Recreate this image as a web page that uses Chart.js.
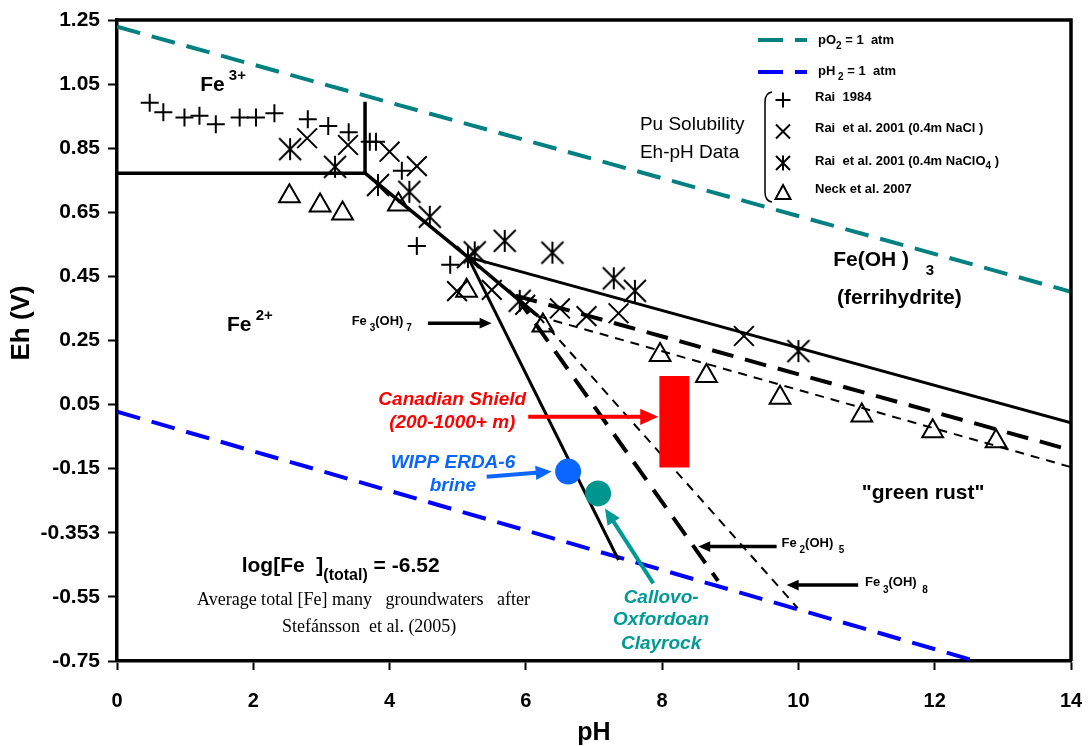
<!DOCTYPE html>
<html>
<head>
<meta charset="utf-8">
<script src="https://cdn.jsdelivr.net/npm/chart.js@4.4.1/dist/chart.umd.min.js"></script>
<style>
  html, body { margin: 0; padding: 0; background: #fff; }
  #wrap { width: 1088px; height: 746px; position: relative; }
</style>
</head>
<body>
<div id="wrap"><canvas id="ehph"></canvas></div>
<script>
// ---- Pu solubility Eh-pH data (pH, Eh in V) ----
const rai1984PH = [0.48, 0.68, 0.99, 1.21, 1.45, 1.80, 2.04, 2.31, 2.80, 3.10, 3.40, 3.71, 3.80, 4.18, 4.40, 4.89];
const rai1984Eh = [0.992, 0.962, 0.946, 0.951, 0.925, 0.946, 0.946, 0.959, 0.940, 0.919, 0.900, 0.870, 0.870, 0.780, 0.545, 0.486];

const raiNaClPH = [2.79, 3.39, 4.00, 4.40, 4.99, 5.50, 5.99, 6.50, 6.89, 7.36, 9.20];
const raiNaClEh = [0.881, 0.860, 0.839, 0.794, 0.404, 0.408, 0.361, 0.350, 0.326, 0.335, 0.264];

const raiNaClO4PH = [2.54, 3.20, 3.83, 4.29, 4.59, 5.15, 5.25, 5.69, 5.91, 6.39, 7.29, 7.60, 10.00];
const raiNaClO4Eh = [0.847, 0.792, 0.735, 0.714, 0.636, 0.510, 0.525, 0.561, 0.374, 0.524, 0.444, 0.405, 0.217];

const neckPH = [2.53, 2.98, 3.31, 4.13, 5.13, 6.25, 7.97, 8.65, 9.73, 10.93, 11.97, 12.90];
const neckEh = [0.700, 0.671, 0.646, 0.674, 0.405, 0.297, 0.205, 0.139, 0.071, 0.016, -0.033, -0.064];

// water stability limits
const o2PH = [0, 14];      const o2Eh = [1.229, 0.402];
const h2PH = [0, 12.6];    const h2Eh = [0.028, -0.75];

// Fe boundaries
const fe3Fe2PH = [0, 3.64, 3.64];         const fe3Fe2Eh = [0.772, 0.772, 0.995];
const feOH3Fe2PH = [3.64, 5.15, 6.18];    const feOH3Fe2Eh = [0.772, 0.510, 0.326];
const gr7UpperPH = [5.15, 14];            const gr7UpperEh = [0.510, -0.007];
const gr7LowerPH = [5.15, 7.36];          const gr7LowerEh = [0.510, -0.435];
const gr5UpperPH = [5.85, 14];            const gr5UpperEh = [0.390, -0.092];
const gr5LowerPH = [5.85, 8.82];          const gr5LowerEh = [0.390, -0.500];
const gr8UpperPH = [6.18, 14];            const gr8UpperEh = [0.326, -0.145];
const gr8LowerPH = [6.18, 9.99];          const gr8LowerEh = [0.326, -0.585];

// groundwater sites
const shieldPH = [8.18, 8.18];  const shieldEh = [0.139, -0.146];
const wippPH = [6.62];          const wippEh = [-0.159];
const calloPH = [7.06];         const calloEh = [-0.227];

// axis ticks
const phTicks = [0, 2, 4, 6, 8, 10, 12, 14];
const ehTicks = [-0.75, -0.55, -0.35, -0.15, 0.05, 0.25, 0.45, 0.65, 0.85, 1.05, 1.25];
const ehTickLabels = ['-0.75', '-0.55', '-0.353', '-0.15', '0.05', '0.25', '0.45', '0.65', '0.85', '1.05', '1.25'];

const SANS = "'Liberation Sans', Arial, Helvetica, sans-serif";
const SERIF = "'Liberation Serif', 'Times New Roman', serif";

const pts = (xs, ys) => xs.map((v, i) => ({ x: v, y: ys[i] }));

function makeAsterisk(size, lw) {
  const c = document.createElement('canvas');
  c.width = size + 4; c.height = size + 4;
  const g = c.getContext('2d');
  const m = c.width / 2, h = size / 2;
  g.strokeStyle = '#000'; g.lineWidth = lw;
  g.beginPath();
  g.moveTo(m - h, m - h); g.lineTo(m + h, m + h);
  g.moveTo(m + h, m - h); g.lineTo(m - h, m + h);
  g.moveTo(m, m - h); g.lineTo(m, m + h);
  g.stroke();
  return c;
}

function lineSet(xs, ys, color, width, dash) {
  return {
    data: pts(xs, ys), showLine: true, pointRadius: 0,
    borderColor: color, borderWidth: width, borderDash: dash || [],
    borderCapStyle: 'butt', fill: false
  };
}

function markerSet(xs, ys, style, r) {
  return {
    data: pts(xs, ys), showLine: false, pointStyle: style, pointRadius: r,
    pointBorderColor: '#000', pointBackgroundColor: 'rgba(0,0,0,0)', pointBorderWidth: 2
  };
}

// text placed in data coordinates (pH, Eh)
const textLabels = [
  { ph: 1.22, eh: 1.047, segs: [['Fe', 21, 0], [' 3+', 15, -9]] },
  { ph: 1.614, eh: 0.298, segs: [['Fe', 21, 0], [' 2+', 15, -9]] },
  { ph: 10.51, eh: 0.501, segs: [['Fe(OH )', 21, 0], ['    3', 15, 11]] },
  { ph: 10.565, eh: 0.382, segs: [['(ferrihydrite)', 21, 0]] },
  { ph: 10.93, eh: -0.225, segs: [['"green rust"', 21, 0]] },
  { ph: 1.83, eh: -0.454, segs: [['log[Fe  ]', 21, 0], ['(total)', 16, 9], [' = -6.52', 21, 0]] },
  { ph: 1.174, eh: -0.56, segs: [['Average total [Fe] many   groundwaters   after', 18, 0]], family: SERIF, weight: 'normal' },
  { ph: 2.42, eh: -0.644, segs: [['Stefánsson  et al. (2005)', 18, 0]], family: SERIF, weight: 'normal' },
  { ph: 4.92, eh: 0.064, segs: [['Canadian Shield', 19, 0]], italic: true, color: '#ff0000', align: 'center' },
  { ph: 4.92, eh: -0.008, segs: [['(200-1000+ m)', 19, 0]], italic: true, color: '#ff0000', align: 'center' },
  { ph: 4.93, eh: -0.133, segs: [['WIPP ERDA-6', 19, 0]], italic: true, color: '#0a66ff', align: 'center' },
  { ph: 4.93, eh: -0.202, segs: [['brine', 19, 0]], italic: true, color: '#0a66ff', align: 'center' },
  { ph: 7.985, eh: -0.554, segs: [['Callovo-', 19, 0]], italic: true, color: '#009a94', align: 'center' },
  { ph: 7.985, eh: -0.622, segs: [['Oxfordoan', 19, 0]], italic: true, color: '#009a94', align: 'center' },
  { ph: 7.985, eh: -0.695, segs: [['Clayrock', 19, 0]], italic: true, color: '#009a94', align: 'center' },
  { ph: 3.444, eh: 0.309, segs: [['Fe', 13, 0], [' 3', 10, 7], ['(OH)', 13, 0], [' 7', 10, 7]] },
  { ph: 9.753, eh: -0.383, segs: [['Fe', 13, 0], [' 2', 10, 7], ['(OH)', 13, 0], ['  5', 10, 7]] },
  { ph: 10.976, eh: -0.506, segs: [['Fe', 13, 0], [' 3', 10, 7], ['(OH)', 13, 0], ['  8', 10, 7]] },
  { ph: 7.674, eh: 0.922, segs: [['Pu Solubility', 19, 0]], weight: 'normal' },
  { ph: 7.674, eh: 0.835, segs: [['Eh-pH Data', 19, 0]], weight: 'normal' }
];

// arrows: from (ph1, eh1) to head at (ph2, eh2)
const arrows = [
  { ph1: 4.563, eh1: 0.304, ph2: 5.498, eh2: 0.304, color: '#000', w: 3.5, head: 12 },
  { ph1: 9.68, eh1: -0.393, ph2: 8.53, eh2: -0.393, color: '#000', w: 3.5, head: 12 },
  { ph1: 10.877, eh1: -0.513, ph2: 9.827, eh2: -0.513, color: '#000', w: 3.5, head: 12 },
  { ph1: 6.035, eh1: 0.012, ph2: 7.943, eh2: 0.012, color: '#ff0000', w: 4, head: 18 },
  { ph1: 5.425, eh1: -0.175, ph2: 6.379, eh2: -0.159, color: '#0a66ff', w: 4, head: 16 },
  { ph1: 7.87, eh1: -0.508, ph2: 7.161, eh2: -0.274, color: '#009a94', w: 4, head: 16 }
];

function richText(ctx, x, y, segs, o) {
  const fam = o.family || SANS;
  const st = (o.italic ? 'italic ' : '') + (o.weight || 'bold') + ' ';
  let w = 0;
  segs.forEach(s => { ctx.font = st + s[1] + 'px ' + fam; w += ctx.measureText(s[0]).width; });
  let cx = o.align === 'center' ? x - w / 2 : (o.align === 'right' ? x - w : x);
  ctx.fillStyle = o.color || '#000';
  ctx.textBaseline = 'middle';
  ctx.textAlign = 'left';
  segs.forEach(s => {
    ctx.font = st + s[1] + 'px ' + fam;
    ctx.fillText(s[0], cx, y + (s[2] || 0));
    cx += ctx.measureText(s[0]).width;
  });
}

function drawArrow(ctx, x1, y1, x2, y2, color, w, head) {
  const a = Math.atan2(y2 - y1, x2 - x1);
  const c = Math.cos(a), s = Math.sin(a), hw = head * 0.45;
  ctx.strokeStyle = color; ctx.fillStyle = color; ctx.lineWidth = w;
  ctx.setLineDash([]);
  ctx.beginPath();
  ctx.moveTo(x1, y1);
  ctx.lineTo(x2 - c * head * 0.8, y2 - s * head * 0.8);
  ctx.stroke();
  ctx.beginPath();
  ctx.moveTo(x2, y2);
  ctx.lineTo(x2 - head * c + hw * s, y2 - head * s - hw * c);
  ctx.lineTo(x2 - head * c - hw * s, y2 - head * s + hw * c);
  ctx.closePath();
  ctx.fill();
}

function legendMarker(ctx, kind, x, y) {
  ctx.strokeStyle = '#000'; ctx.lineWidth = 2; ctx.setLineDash([]);
  ctx.beginPath();
  if (kind === 'plus') {
    ctx.moveTo(x - 7.5, y); ctx.lineTo(x + 7.5, y);
    ctx.moveTo(x, y - 7.5); ctx.lineTo(x, y + 7.5);
  } else if (kind === 'x') {
    ctx.moveTo(x - 7, y - 7); ctx.lineTo(x + 7, y + 7);
    ctx.moveTo(x + 7, y - 7); ctx.lineTo(x - 7, y + 7);
  } else if (kind === 'ast') {
    ctx.moveTo(x - 7, y - 7); ctx.lineTo(x + 7, y + 7);
    ctx.moveTo(x + 7, y - 7); ctx.lineTo(x - 7, y + 7);
    ctx.moveTo(x, y - 7.5); ctx.lineTo(x, y + 7.5);
  } else {
    ctx.moveTo(x, y - 7); ctx.lineTo(x + 7.5, y + 7); ctx.lineTo(x - 7.5, y + 7); ctx.closePath();
  }
  ctx.stroke();
}

const overlay = {
  id: 'overlay',
  afterDatasetsDraw(chart) {
    const { ctx, chartArea: a, scales: { x, y } } = chart;
    const px = v => x.getPixelForValue(v), py = v => y.getPixelForValue(v);
    ctx.save();

    // top / right frame
    ctx.strokeStyle = '#000'; ctx.lineWidth = 3.5; ctx.setLineDash([]);
    ctx.beginPath();
    ctx.moveTo(a.left, a.top); ctx.lineTo(a.right, a.top); ctx.lineTo(a.right, a.bottom);
    ctx.stroke();

    arrows.forEach(r => drawArrow(ctx, px(r.ph1), py(r.eh1), px(r.ph2), py(r.eh2), r.color, r.w, r.head));
    textLabels.forEach(t => richText(ctx, px(t.ph), py(t.eh), t.segs, t));

    // legend
    ctx.lineWidth = 4;
    ctx.setLineDash([25, 12]);
    ctx.strokeStyle = '#008080';
    ctx.beginPath(); ctx.moveTo(758, 40); ctx.lineTo(807, 40); ctx.stroke();
    ctx.strokeStyle = '#0000ff';
    ctx.beginPath(); ctx.moveTo(758, 72); ctx.lineTo(807, 72); ctx.stroke();
    ctx.setLineDash([]);
    richText(ctx, 818, 40, [['pO', 13, 0], ['2', 10, 6], [' = 1  atm', 13, 0]], {});
    richText(ctx, 818, 71, [['pH', 13, 0], [' 2', 10, 6], [' = 1  atm', 13, 0]], {});

    ctx.strokeStyle = '#000'; ctx.lineWidth = 1.5;
    ctx.beginPath();
    ctx.moveTo(772, 92); ctx.quadraticCurveTo(765, 93, 765, 102);
    ctx.lineTo(765, 192); ctx.quadraticCurveTo(765, 201, 772, 202);
    ctx.stroke();

    legendMarker(ctx, 'plus', 783, 100);
    legendMarker(ctx, 'x', 783, 131.5);
    legendMarker(ctx, 'ast', 783, 163);
    legendMarker(ctx, 'tri', 783, 192);
    richText(ctx, 815, 97.5, [['Rai  1984', 13, 0]], {});
    richText(ctx, 815, 128.5, [['Rai  et al. 2001 (0.4m NaCl )', 13, 0]], {});
    richText(ctx, 815, 161.5, [['Rai  et al. 2001 (0.4m NaClO', 13, 0], ['4', 10, 5], [' )', 13, 0]], {});
    richText(ctx, 815, 189.5, [['Neck et al. 2007', 13, 0]], {});

    // axis titles
    ctx.fillStyle = '#000';
    ctx.textAlign = 'center'; ctx.textBaseline = 'middle';
    ctx.font = 'bold 25px ' + SANS;
    ctx.fillText('pH', (a.left + a.right) / 2, 733);
    ctx.translate(22, 323);
    ctx.rotate(-Math.PI / 2);
    ctx.font = 'bold 26px ' + SANS;
    ctx.fillText('Eh (V)', 0, 0);

    ctx.restore();
  }
};

new Chart(document.getElementById('ehph').getContext('2d'), {
  type: 'scatter',
  data: {
    datasets: [
      { data: pts(wippPH, wippEh), pointRadius: 13, pointBackgroundColor: '#0a66ff', pointBorderWidth: 0 },
      { data: pts(calloPH, calloEh), pointRadius: 13, pointBackgroundColor: '#00968f', pointBorderWidth: 0 },
      lineSet(shieldPH, shieldEh, '#ff0000', 30),
      markerSet(rai1984PH, rai1984Eh, 'cross', 9),
      markerSet(raiNaClPH, raiNaClEh, 'crossRot', 14),
      markerSet(raiNaClO4PH, raiNaClO4Eh, makeAsterisk(22, 2), 11),
      markerSet(neckPH, neckEh, 'triangle', 12),
      lineSet(fe3Fe2PH, fe3Fe2Eh, '#000', 3.5),
      lineSet(feOH3Fe2PH, feOH3Fe2Eh, '#000', 3.5),
      lineSet(gr7UpperPH, gr7UpperEh, '#000', 3),
      lineSet(gr7LowerPH, gr7LowerEh, '#000', 3),
      lineSet(gr5UpperPH, gr5UpperEh, '#000', 4, [22, 12]),
      lineSet(gr5LowerPH, gr5LowerEh, '#000', 4, [22, 12]),
      lineSet(gr8UpperPH, gr8UpperEh, '#000', 2, [9, 7]),
      lineSet(gr8LowerPH, gr8LowerEh, '#000', 2, [9, 7]),
      lineSet(o2PH, o2Eh, '#008080', 4, [24, 12]),
      lineSet(h2PH, h2Eh, '#0000ff', 4, [24, 12])
    ]
  },
  options: {
    responsive: true,
    maintainAspectRatio: false,
    animation: false,
    devicePixelRatio: 1,
    events: [],
    layout: { padding: { top: 20, right: 17, left: 0, bottom: 0 } },
    plugins: { legend: { display: false }, tooltip: { enabled: false } },
    scales: {
      x: {
        type: 'linear', min: 0, max: 14,
        afterBuildTicks: s => { s.ticks = phTicks.map(v => ({ value: v })); },
        afterFit: s => { s.height = 85; s.paddingLeft = 0; s.paddingRight = 0; },
        ticks: { color: '#000', font: { family: SANS, size: 20, weight: 'bold' }, padding: 19, maxRotation: 0 },
        grid: { drawOnChartArea: false, tickLength: 9, tickWidth: 2, tickColor: '#000', color: '#000' },
        border: { color: '#000', width: 3.5 }
      },
      y: {
        type: 'linear', min: -0.75, max: 1.25,
        afterBuildTicks: s => { s.ticks = ehTicks.map(v => ({ value: v })); },
        afterFit: s => { s.width = 117; s.paddingTop = 0; s.paddingBottom = 0; },
        ticks: {
          color: '#000', font: { family: SANS, size: 21, weight: 'bold' }, padding: 8,
          callback: (v, i) => ehTickLabels[i]
        },
        grid: { drawOnChartArea: false, tickLength: 9, tickWidth: 2, tickColor: '#000', color: '#000' },
        border: { color: '#000', width: 3.5 }
      }
    }
  },
  plugins: [overlay]
});
</script>
</body>
</html>
